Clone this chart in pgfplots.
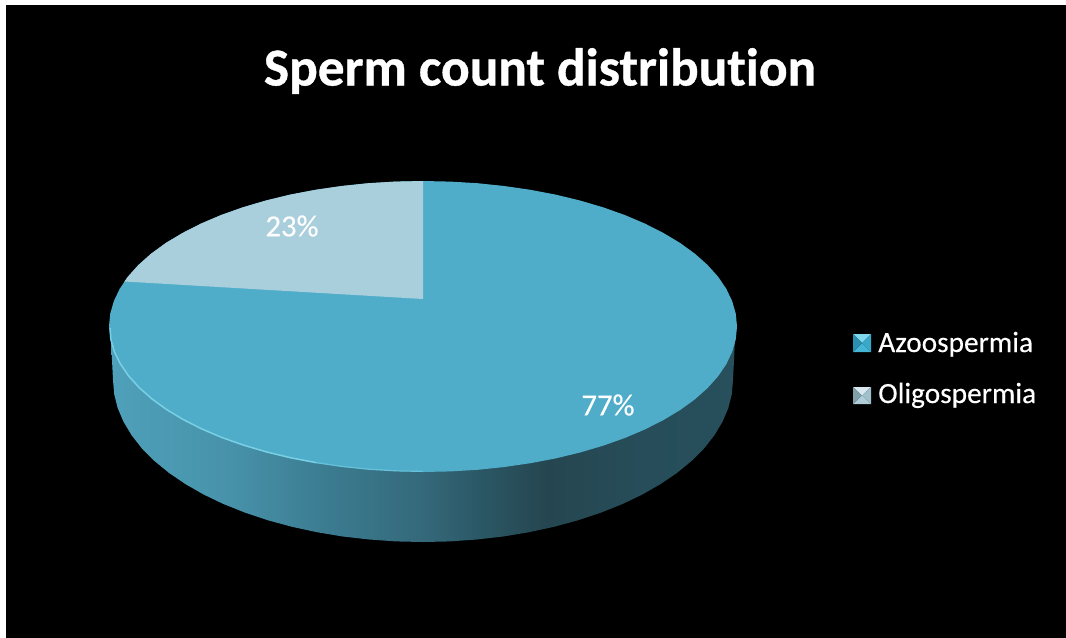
\documentclass[border=0pt]{standalone}
\usepackage{pgfplots}
\pgfplotsset{compat=1.18}
\usepackage{fontspec}
\setmainfont{Carlito}[Ligatures=NoCommon]
\newfontfamily\titlefont{Carlito}[Ligatures=NoCommon,BoldFeatures={FakeBold=0.7}]
\newfontfamily\labelfont{Carlito}[Ligatures=NoCommon,FakeBold=0.25]
\definecolor{topface}{HTML}{4FADC9}
\definecolor{oligo}{HTML}{A9CEDC}
\definecolor{rim}{HTML}{8BE0F2}
\definecolor{wallA}{HTML}{4FA0BA}
\definecolor{wallB}{HTML}{4792AA}
\definecolor{wallC}{HTML}{3C7D92}
\definecolor{wallD}{HTML}{34697A}
\definecolor{wallE}{HTML}{2A5663}
\definecolor{wallF}{HTML}{254650}
\definecolor{wallG}{HTML}{264C58}
\definecolor{wallH}{HTML}{27505C}
% side wall of the disc, lit from the left
\pgfdeclarehorizontalshading{sidewall}{100bp}{
  color(0bp)=(wallA);
  color(25bp)=(wallA);
  color(34.5bp)=(wallB);
  color(41.7bp)=(wallC);
  color(50bp)=(wallD);
  color(55bp)=(wallE);
  color(60bp)=(wallF);
  color(65.8bp)=(wallG);
  color(75bp)=(wallH);
  color(100bp)=(wallH)}
\begin{document}
\begin{tikzpicture}
\begin{axis}[
  name=chart,
  scale only axis, width=799.5pt, height=477.75pt,
  xmin=0, xmax=1066, ymin=0, ymax=637, y dir=reverse,
  hide axis, clip=false]
% page and background; the black runs past the edge of the picture
\addplot[fill=white, draw=none] coordinates {(-10,-10) (1085,-10) (1085,655) (-10,655)} -- cycle;
\addplot[fill=black, draw=none] coordinates {(6,5) (1085,5) (1085,655) (6,655)} -- cycle;
% side wall
\addplot[draw=none, shade, shading=sidewall] coordinates {
(735,340) (733,380) (731.8,394.1) (728.3,408.1) (722.4,421.9) (714.3,435.4) (704,448.5) (691.5,461) (677,472.9) (660.5,484.1) (642.2,494.6) (622.3,504.1) (600.8,512.7) (578,520.3) (554,526.8) (529,532.2) (503.2,536.5) (476.8,539.5) (450,541.4) (423,542)
(396,541.4) (369.2,539.5) (342.8,536.5) (317,532.2) (292,526.8) (268,520.3) (245.2,512.7) (223.7,504.1) (203.8,494.6) (185.5,484.1) (169,472.9) (154.5,461) (142,448.5) (131.7,435.4) (123.6,421.9) (117.7,408.1) (114.2,394.1) (113,380) (111,340)} -- cycle;
% top face, Azoospermia 77%
\addplot[fill=topface, draw=none] coordinates {
(737,326.5) (735.8,313.8) (732.2,301.2) (726.3,288.8) (718.1,276.7) (707.6,265) (694.9,253.7) (680.2,243) (663.5,233) (645,223.6) (624.8,215) (603.1,207.3) (580,200.5) (555.7,194.6) (530.4,189.8) (504.3,186) (477.5,183.2) (450.4,181.6) (423,181)
(395.6,181.6) (368.5,183.2) (341.7,186) (315.6,189.8) (290.3,194.6) (266,200.5) (242.9,207.3) (221.2,215) (201,223.6) (182.5,233) (165.8,243) (151.1,253.7) (138.4,265) (127.9,276.7) (119.7,288.8) (113.8,301.2) (110.2,313.8) (109,326.5)
(110.2,339.2) (113.8,351.8) (119.7,364.2) (127.9,376.3) (138.4,388) (151.1,399.3) (165.8,410) (182.5,420) (201,429.4) (221.2,438) (242.9,445.7) (266,452.5) (290.3,458.4) (315.6,463.2) (341.7,467) (368.5,469.8) (395.6,471.4) (423,472)
(450.4,471.4) (477.5,469.8) (504.3,467) (530.4,463.2) (555.7,458.4) (580,452.5) (603.1,445.7) (624.8,438) (645,429.4) (663.5,420) (680.2,410) (694.9,399.3) (707.6,388) (718.1,376.3) (726.3,364.2) (732.2,351.8) (735.8,339.2)} -- cycle;
% Oligospermia 23%
\addplot[fill=oligo, draw=none] coordinates {
(423,299) (423,181) (395.6,181.6) (368.5,183.2) (341.7,186) (315.6,189.8) (290.3,194.6) (266,200.5) (242.9,207.3) (221.2,215) (201,223.6) (182.5,233) (165.8,243) (151.1,253.7) (138.4,265) (127.9,276.7) (124.4,281.5)} -- cycle;
% bevel highlight along the near rim
\addplot[rim, line width=1.1pt, opacity=0.7, line join=round] coordinates {
(110.2,328) (110.8,339.2) (114.4,351.8) (120.3,363.8) (128.5,375.8) (139,387.4) (151.7,398.7) (166.4,409.4) (183,419.4) (201.5,428.8) (221.7,437.4) (243.4,445.1) (266.5,451.9) (290.8,457.8) (316,462.6)};
\addplot[rim, line width=0.9pt, opacity=0.4, line join=round] coordinates {
(316,462.6) (342,466.4) (368.7,469.2) (395.8,470.8) (423,471.4)};
% legend keys
\addplot[fill={rgb,255:red,128;green,216;blue,238}, draw=none] coordinates {(853,334) (871,334) (862,343)} -- cycle;
\addplot[fill={rgb,255:red,69;green,181;blue,213}, draw=none] coordinates {(853,352) (871,352) (862,343)} -- cycle;
\addplot[fill={rgb,255:red,42;green,143;blue,176}, draw=none] coordinates {(853,334) (853,352) (862,343)} -- cycle;
\addplot[fill={rgb,255:red,58;green,168;blue,200}, draw=none] coordinates {(871,334) (871,352) (862,343)} -- cycle;
\addplot[fill={rgb,255:red,216;green,232;blue,238}, draw=none] coordinates {(853,387) (871,387) (862,395.5)} -- cycle;
\addplot[fill={rgb,255:red,176;green,204;blue,216}, draw=none] coordinates {(853,404) (871,404) (862,395.5)} -- cycle;
\addplot[fill={rgb,255:red,127;green,159;blue,170}, draw=none] coordinates {(853,387) (853,404) (862,395.5)} -- cycle;
\addplot[fill={rgb,255:red,160;green,192;blue,204}, draw=none] coordinates {(871,387) (871,404) (862,395.5)} -- cycle;
% text
\node[white, font=\titlefont\bfseries\fontsize{40}{44}\selectfont, anchor=base] at (axis cs:540,85.5) {Sperm count distribution};
\node[white, font=\labelfont\fontsize{23}{27}\selectfont, anchor=center] at (axis cs:292,226) {23\%};
\node[white, font=\labelfont\fontsize{23}{27}\selectfont, anchor=center] at (axis cs:608,405) {77\%};
\node[white, font=\labelfont\fontsize{22}{26}\selectfont, anchor=base west, inner sep=0pt] at (axis cs:878,352) {Azoospermia};
\node[white, font=\labelfont\fontsize{22}{26}\selectfont, anchor=base west, inner sep=0pt] at (axis cs:878,403) {Oligospermia};
\end{axis}
% the picture ends exactly at the plot area
\pgfresetboundingbox
\path[use as bounding box] (chart.south west) rectangle (chart.north east);
\end{tikzpicture}
\end{document}
